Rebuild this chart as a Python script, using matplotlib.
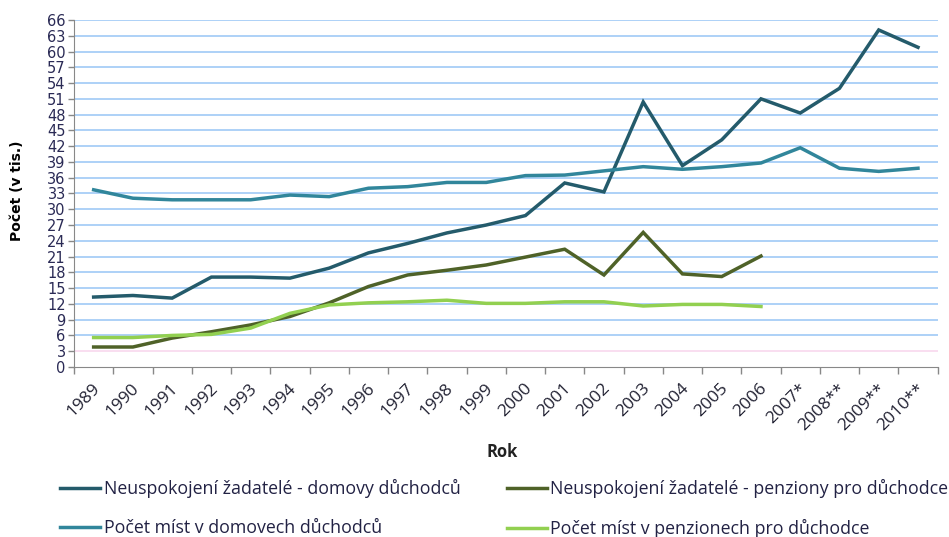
import matplotlib
matplotlib.use('Agg')
import matplotlib.pyplot as plt
import matplotlib.transforms as mtransforms
import numpy as np

years = ['1989', '1990', '1991', '1992', '1993', '1994', '1995', '1996', '1997', '1998',
         '1999', '2000', '2001', '2002', '2003', '2004', '2005', '2006', '2007*',
         '2008**', '2009**', '2010**']

# values in thousands
zadatele_domovy = [13.3, 13.6, 13.1, 17.1, 17.1, 16.9, 18.8, 21.7, 23.5, 25.5, 27.0,
                   28.8, 35.0, 33.3, 50.4, 38.3, 43.2, 51.0, 48.3, 53.0, 64.1, 60.8]
zadatele_penziony = [3.8, 3.8, 5.5, 6.7, 8.0, 9.6, 12.2, 15.3, 17.5, 18.4, 19.4,
                     20.9, 22.4, 17.5, 25.6, 17.7, 17.2, 21.1]
mista_domovy = [33.7, 32.1, 31.8, 31.8, 31.8, 32.7, 32.4, 34.0, 34.3, 35.1, 35.1,
                36.4, 36.5, 37.3, 38.1, 37.6, 38.1, 38.8, 41.7, 37.8, 37.2, 37.8]
mista_penziony = [5.6, 5.6, 6.0, 6.2, 7.4, 10.2, 11.8, 12.2, 12.4, 12.7, 12.1,
                  12.1, 12.4, 12.4, 11.6, 11.9, 11.9, 11.5]

labels = ['Neuspokojení žadatelé - domovy důchodců',
          'Neuspokojení žadatelé - penziony pro důchodce',
          'Počet míst v domovech důchodců',
          'Počet míst v penzionech pro důchodce']
colors = ['#245b6b', '#4f6228', '#31869b', '#92d050']

fig = plt.figure(figsize=(9.49, 5.37), dpi=100)
ax = fig.add_axes([0.078, 0.3166, 0.910, 0.6462])

x = np.arange(len(years))
series = [zadatele_domovy, zadatele_penziony, mista_domovy, mista_penziony]
order = [2, 3, 1, 0]  # drawing order
lines = {}
for i in order:
    vals = series[i]
    lines[i], = ax.plot(x[:len(vals)], vals, color=colors[i], lw=2.5,
                        solid_joinstyle='miter', zorder=3 + i, label=labels[i])

ax.set_xlim(-0.5, len(years) - 0.5)
ax.set_ylim(0, 66)
yt = np.arange(0, 67, 3)
ax.set_yticks(yt)
for v in yt[1:]:
    c = '#f8d8ee' if v == 3 else '#9fcaf6'
    ax.axhline(v, color=c, lw=1.2, zorder=1)

ax.set_xticks(np.arange(-0.5, len(years), 1.0))
ax.set_xticklabels([])
ax.tick_params(axis='x', length=5, color='#888888', width=1)
ax.tick_params(axis='y', length=4, color='#888888', width=1, pad=2,
               labelsize=10.5, labelcolor='#2a2a55')
for lab in ax.get_yticklabels():
    lab.set_fontfamily('DejaVu Sans')

# category labels at the centres
offset = mtransforms.ScaledTranslation(0.04, -0.19, fig.dpi_scale_trans)
for xi, yr in zip(x, years):
    ax.text(xi, 0, yr, transform=ax.get_xaxis_transform() + offset,
            rotation=45, ha='right', va='center', rotation_mode='anchor',
            fontsize=12.5, family='Open Sans', color='#222233')

for s in ['top', 'right']:
    ax.spines[s].set_visible(False)
ax.spines['left'].set_color('#888888')
ax.spines['bottom'].set_color('#888888')

fig.text(0.018, 0.645, 'Počet (v tis.)', rotation=90, ha='center', va='center',
         fontsize=10, fontweight='bold', family='DejaVu Sans')
fig.text(0.529, 0.158, 'Rok', ha='center', va='center', fontsize=12,
         fontweight='bold', family='Open Sans', color='#222222')

# legend is filled column by column, so hand it in that order
leg_idx = [0, 2, 1, 3]
leg = fig.legend([lines[i] for i in leg_idx], [labels[i] for i in leg_idx], ncol=2,
                 loc='upper left', bbox_to_anchor=(0.052, 0.127), frameon=False,
                 handlelength=2.25, handletextpad=0.2, columnspacing=2.6,
                 labelspacing=1.15, borderaxespad=0.2,
                 prop={'family': 'Open Sans', 'size': 12.8})
for t in leg.get_texts():
    t.set_color('#222244')

fig.savefig('out.png', dpi=100)
